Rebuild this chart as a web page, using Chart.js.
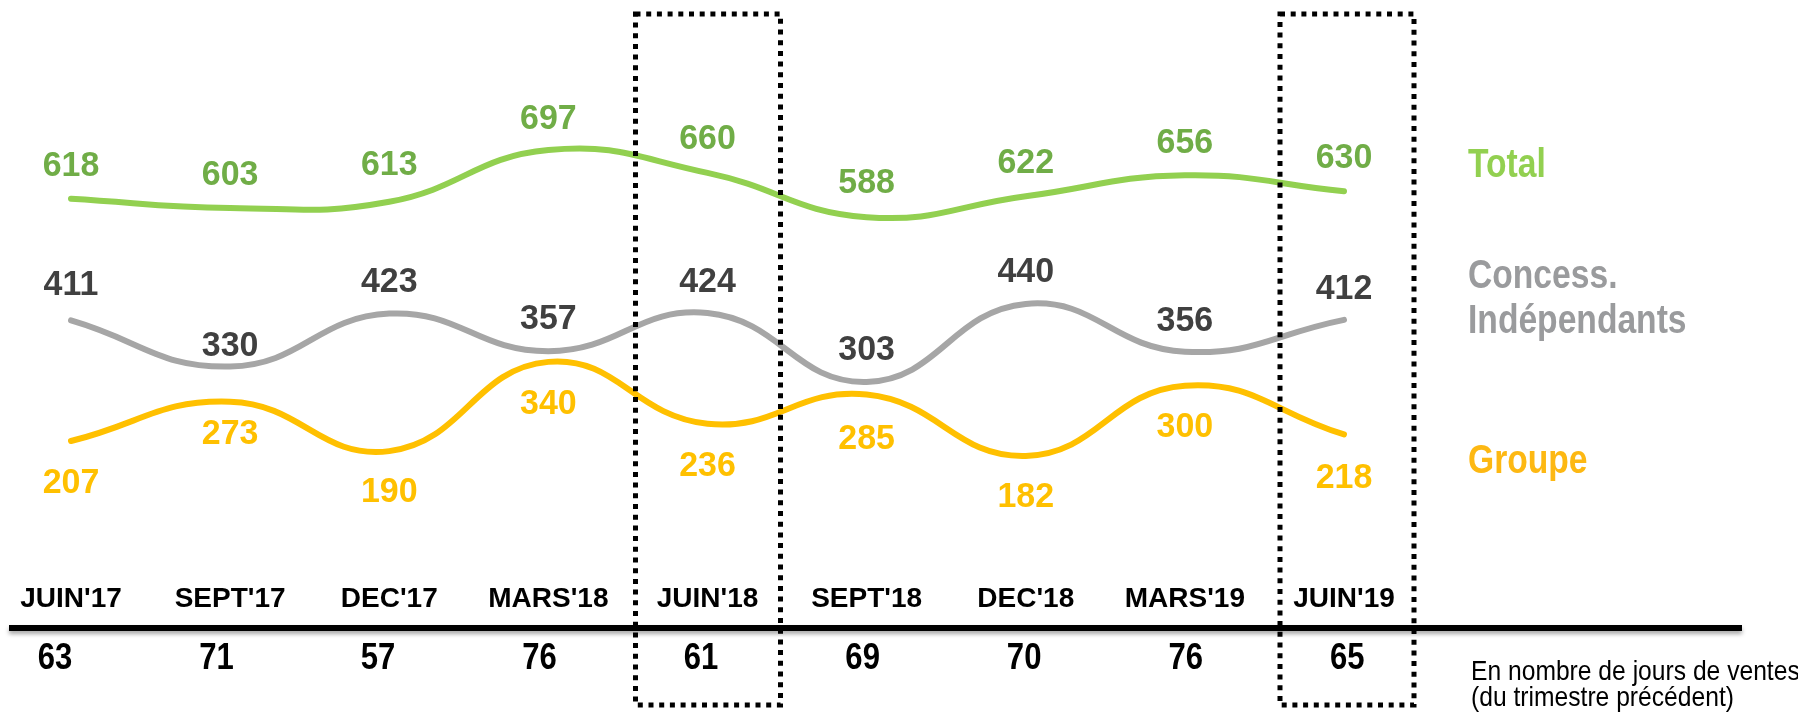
<!DOCTYPE html>
<html><head><meta charset="utf-8">
<script src="https://cdn.jsdelivr.net/npm/chart.js@4/dist/chart.umd.min.js"></script>
<style>html,body{margin:0;padding:0;background:#fff;}#wrap{width:1798px;height:716px;}</style>
</head><body><div id="wrap"><canvas id="c" width="1798" height="716"></canvas></div>
<script>
// ---- data ----
const categories = ["JUIN'17","SEPT'17","DEC'17","MARS'18","JUIN'18","SEPT'18","DEC'18","MARS'19","JUIN'19"];
const totalValues = [618,603,613,697,660,588,622,656,630];
const concessValues = [411,330,423,357,424,303,440,356,412];
const groupeValues = [207,273,190,340,236,285,182,300,218];
const joursVentes = [63,71,57,76,61,69,70,76,65];
const seriesNames = [["Total"], ["Concess.", "Indépendants"], ["Groupe"]];
const highlighted = ["JUIN'18", "JUIN'19"];
const footnote = ["En nombre de jours de ventes", "(du trimestre précédent)"];

// ---- styles ----
const FONT = "'Liberation Sans', Arial, Helvetica, sans-serif";
const styles = [
  {line:'#92D050', label:'#70AD47', legend:'#92D050', legendY:[177], labelBase:[-23,-23,-27,-21,-24,-24,-23,-22,-23]},
  {line:'#A6A6A6', label:'#404040', legend:'#9A9B9D', legendY:[288,333], labelBase:[-25,-11,-22,-22,-21,-22,-22,-21,-21]},
  {line:'#FFC000', label:'#FFC000', legend:'#FDB813', legendY:[473], labelBase:[52,42,51,52,52,54,51,51,54]}
];
const rectHalf = [[72,73],[64,70]];

function txt(ctx, s, x, y, size, weight, color, align, sx) {
  ctx.save();
  ctx.font = weight + ' ' + size + 'px ' + FONT;
  ctx.fillStyle = color;
  ctx.textBaseline = 'alphabetic';
  ctx.textAlign = align;
  ctx.translate(x, y);
  ctx.scale(sx, 1);
  ctx.fillText(s, 0, 0);
  ctx.restore();
}

const decor = {
  id: 'decor',
  afterDatasetsDraw(chart) {
    const ctx = chart.ctx;
    const xs = chart.scales.x;
    // value labels
    chart.data.datasets.forEach((ds, di) => {
      const meta = chart.getDatasetMeta(di);
      meta.data.forEach((pt, i) => {
        txt(ctx, String(ds.data[i]), pt.x, pt.y + styles[di].labelBase[i], 35, 'bold', styles[di].label, 'center', 0.97);
      });
    });
    // category labels
    categories.forEach((c, i) => {
      txt(ctx, c, xs.getPixelForValue(i), 607, 28, 'bold', '#000', 'center', 1);
    });
    // axis line with shadow
    ctx.save();
    ctx.shadowColor = 'rgba(0,0,0,0.35)';
    ctx.shadowBlur = 4;
    ctx.shadowOffsetY = 3;
    ctx.fillStyle = '#000';
    ctx.fillRect(9, 625, 1733, 6);
    ctx.restore();
    // jours de ventes
    joursVentes.forEach((v, i) => {
      txt(ctx, String(v), xs.getPixelForValue(i) - 16 + 2.4 * i, 669, 37, 'bold', '#000', 'center', 0.84);
    });
    // dotted highlight rectangles
    highlighted.forEach((h, k) => {
      const cx = xs.getPixelForValue(categories.indexOf(h));
      const l = cx - rectHalf[k][0], r = cx + rectHalf[k][1];
      ctx.save();
      ctx.strokeStyle = '#000';
      ctx.lineWidth = 5;
      ctx.setLineDash([5, 5.7]);
      ctx.beginPath();
      ctx.moveTo(l, 14); ctx.lineTo(r, 14); ctx.lineTo(r, 705); ctx.lineTo(l, 705); ctx.closePath();
      ctx.stroke();
      ctx.restore();
    });
    // series names
    seriesNames.forEach((lines, di) => {
      lines.forEach((s, j) => {
        txt(ctx, s, 1468, styles[di].legendY[j], 41, 'bold', styles[di].legend, 'left', 0.82);
      });
    });
    // footnote
    txt(ctx, footnote[0], 1471, 680, 28, 'normal', '#000', 'left', 0.88);
    txt(ctx, footnote[1], 1471, 706, 28, 'normal', '#000', 'left', 0.88);
  }
};

const mk = (label, data, axis, di) => ({
  label, data, yAxisID: axis,
  borderColor: styles[di].line, backgroundColor: styles[di].line,
  borderWidth: 6, pointRadius: 0, pointHoverRadius: 0,
  tension: 0.45, borderCapStyle: 'round', borderJoinStyle: 'round',
  fill: false, clip: false
});

new Chart(document.getElementById('c'), {
  type: 'line',
  data: {
    labels: categories,
    datasets: [
      mk('Total', totalValues, 'yT', 0),
      mk('Concess. Indépendants', concessValues, 'yC', 1),
      mk('Groupe', groupeValues, 'yG', 2)
    ]
  },
  options: {
    responsive: false, animation: false, devicePixelRatio: 1,
    layout: {padding: {left: 71, right: 454, top: 0, bottom: 0}},
    plugins: {legend: {display: false}, tooltip: {enabled: false}},
    events: [],
    scales: {
      x: {type: 'category', display: false, offset: false},
      yT: {display: false, min: -223, max: 941},
      yC: {display: false, min: -284, max: 974},
      yG: {display: false, min: -255, max: 948}
    }
  },
  plugins: [decor]
});
</script></body></html>
